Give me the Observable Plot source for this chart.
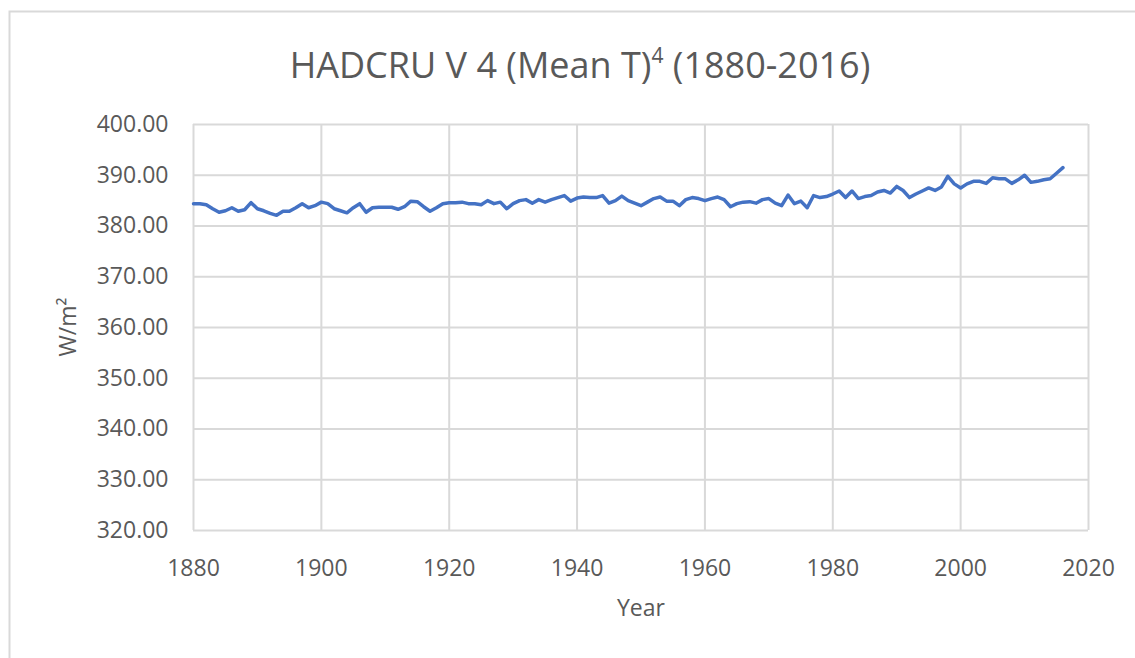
<!DOCTYPE html>
<html>
<head>
<meta charset="utf-8">
<script src="https://cdn.jsdelivr.net/npm/d3@7"></script>
<script src="https://cdn.jsdelivr.net/npm/@observablehq/plot@0.6"></script>
<style>
  html, body { margin: 0; padding: 0; background: #fff; }
  #chart svg { display: block; }
</style>
</head>
<body>
<div id="chart"></div>
<script>
const titleMain = "HADCRU V 4 (Mean T)";
const titleSup = "4";
const titleTail = " (1880-2016)";
const xLabel = "Year";
const yLabel = "W/m²";
const xTicks = [1880, 1900, 1920, 1940, 1960, 1980, 2000, 2020];
const yTicks = [320, 330, 340, 350, 360, 370, 380, 390, 400];
const firstYear = 1880;
const values = [
  384.4, 384.4, 384.2, 383.4, 382.7, 383.0, 383.6, 382.9, 383.2, 384.6,
  383.4, 383.0, 382.5, 382.1, 382.9, 382.9, 383.6, 384.4, 383.6, 384.0,
  384.7, 384.4, 383.4, 383.0, 382.6, 383.6, 384.4, 382.7, 383.6, 383.7,
  383.7, 383.7, 383.3, 383.8, 384.9, 384.8, 383.8, 382.9, 383.6, 384.4,
  384.6, 384.6, 384.7, 384.4, 384.4, 384.2, 385.0, 384.4, 384.7, 383.4,
  384.4, 385.0, 385.2, 384.5, 385.2, 384.7, 385.2, 385.6, 386.0, 384.9,
  385.5, 385.7, 385.6, 385.6, 386.0, 384.5, 385.0, 385.9, 385.0, 384.5,
  384.0, 384.7, 385.4, 385.7, 384.9, 384.9, 384.0, 385.2, 385.6, 385.4,
  385.0, 385.4, 385.7, 385.2, 383.8, 384.4, 384.7, 384.8, 384.5, 385.2,
  385.4, 384.5, 384.0, 386.1, 384.4, 384.9, 383.6, 386.0, 385.6, 385.8,
  386.3, 386.9, 385.6, 386.9, 385.4, 385.8, 386.0, 386.7, 387.0, 386.5,
  387.8, 387.0, 385.6, 386.3, 386.9, 387.5, 387.0, 387.7, 389.8, 388.3,
  387.5, 388.3, 388.8, 388.8, 388.4, 389.5, 389.3, 389.3, 388.4, 389.1,
  390.0, 388.6, 388.8, 389.1, 389.3, 390.4, 391.5
];
const data = values.map((v, i) => ({year: firstYear + i, value: v}));

const W = 1135, H = 658;
const textColor = "#595959";
const gridColor = "#d9d9d9";
const font = "'Open Sans', 'Noto Sans', sans-serif";

const chart = Plot.plot({
  width: W,
  height: H,
  marginLeft: 193,
  marginRight: 47,
  marginTop: 124,
  marginBottom: 128,
  style: {fontFamily: font, fontSize: "23px", color: textColor, background: "#fff", overflow: "visible"},
  x: {domain: [1880, 2020], label: null},
  y: {domain: [320, 400], label: null},
  marks: [
    Plot.gridX(xTicks, {stroke: gridColor, strokeOpacity: 1, strokeWidth: 2}),
    Plot.gridY(yTicks, {stroke: gridColor, strokeOpacity: 1, strokeWidth: 2}),
    Plot.axisX(xTicks, {tickSize: 0, tickPadding: 29, tickFormat: d => String(d), fill: textColor, fontSize: 23}),
    Plot.axisY(yTicks, {tickSize: 0, tickPadding: 25, tickFormat: d3.format(".2f"), fill: textColor, fontSize: 23}),
    Plot.line(data, {x: "year", y: "value", stroke: "#4472C4", strokeWidth: 3.5, strokeLinejoin: "round", strokeLinecap: "round"})
  ]
});

const svg = d3.select(chart);
svg.insert("rect", ":first-child")
  .attr("x", 9.5).attr("y", 11.5).attr("width", W).attr("height", H)
  .attr("fill", "none").attr("stroke", gridColor).attr("stroke-width", 2);

const t = svg.append("text")
  .attr("x", 580).attr("y", 78)
  .attr("text-anchor", "middle")
  .attr("fill", textColor)
  .style("font-family", font)
  .style("font-size", "36px");
t.append("tspan").text(titleMain);
t.append("tspan").attr("dy", -15).style("font-size", "21px").text(titleSup);
t.append("tspan").attr("dy", 15).text(titleTail);

svg.append("text")
  .attr("x", 641).attr("y", 616)
  .attr("text-anchor", "middle")
  .attr("fill", textColor)
  .style("font-family", font)
  .style("font-size", "23px")
  .text(xLabel);

svg.append("text")
  .attr("transform", "translate(76,327) rotate(-90)")
  .attr("text-anchor", "middle")
  .attr("fill", textColor)
  .style("font-family", font)
  .style("font-size", "23px")
  .text(yLabel);

document.getElementById("chart").appendChild(chart);
</script>
</body>
</html>
